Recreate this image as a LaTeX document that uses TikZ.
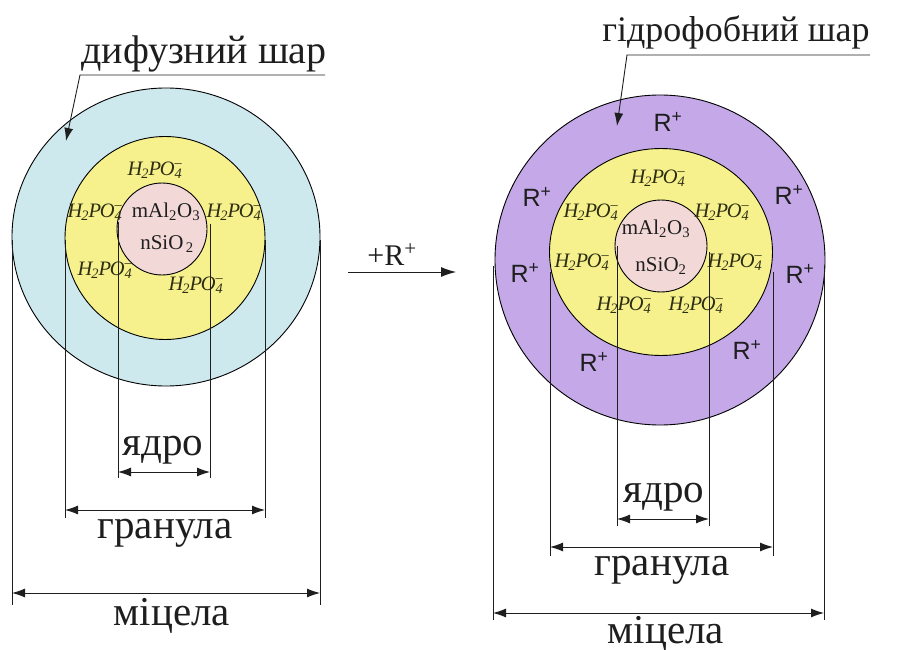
\documentclass[tikz,border=0pt]{standalone}
\usepackage{fontspec}
\setmainfont{Liberation Serif}
\newfontfamily\arialfont{Liberation Sans}
\usetikzlibrary{arrows.meta,shapes.geometric}
\definecolor{diffblue}{RGB}{206,233,238}
\definecolor{granyellow}{RGB}{246,241,140}
\definecolor{corepink}{RGB}{243,216,216}
\definecolor{hydpurple}{RGB}{196,168,232}
\definecolor{iondark}{RGB}{45,45,20}
\definecolor{inkdark}{RGB}{30,30,30}
\newcommand{\hpo}{\textit{H\kern-0.05em\textsubscript{2}\kern-0.03em P\kern-0.06em O\rlap{\textsubscript{4}}\textsuperscript{–}}}
\newcommand{\rplus}{R\textsuperscript{+}}
\tikzset{
  layer/.style={ellipse, draw=black, line width=0.9pt, inner sep=0pt},
  bigtxt/.style={font=\fontsize{41}{44}\selectfont, inner sep=0pt, anchor=base, text=inkdark},
  iontxt/.style={font=\fontsize{20.5}{22}\selectfont, inner sep=0pt, text=iondark},
  rtxt/.style={font=\arialfont\fontsize{25}{28}\selectfont, inner sep=0pt, text=inkdark},
  coretxt/.style={font=\fontsize{21}{22}\selectfont, inner sep=0pt, text=inkdark},
  dimline/.style={line width=0.8pt, draw=inkdark},
  dimarrow/.style={line width=0.9pt, draw=inkdark, {Latex[length=13pt,width=9pt]}-{Latex[length=13pt,width=9pt]}},
  leader/.style={line width=0.9pt, draw=inkdark, -{Latex[length=13pt,width=9pt]}}
}
\begin{document}
\begin{tikzpicture}[x=1pt,y=-1pt]
\useasboundingbox (0,0) rectangle (919,650);
% ---------- left micelle ----------
\node[layer, fill=diffblue, minimum width=308pt, minimum height=298pt] (Lout) at (166,237) {};
\node[layer, fill=granyellow, minimum width=200pt, minimum height=203pt] (Lgran) at (165,238) {};
\node[layer, fill=corepink, minimum width=90pt, minimum height=92pt] (Lcore) at (162,229) {};
\node[coretxt] (Lc1) at (166,212) {mAl\textsubscript{2}O\textsubscript{3}};
\node[coretxt] (Lc2) at (167,244) {nSiO\textsubscript{\,2}};
\node[iontxt] (Li1) at (155,170) {\hpo};
\node[iontxt] (Li2) at (95,212) {\hpo};
\node[iontxt] (Li3) at (234,212) {\hpo};
\node[iontxt] (Li4) at (105,270) {\hpo};
\node[iontxt] (Li5) at (196,285) {\hpo};
% dimension lines left
\coordinate (La1) at (12,240);  \coordinate (La2) at (12,605);
\coordinate (Lb1) at (320,240); \coordinate (Lb2) at (320,605);
\coordinate (Lc1a) at (65,240);  \coordinate (Lc1b) at (65,518);
\coordinate (Ld1a) at (265,240); \coordinate (Ld1b) at (265,518);
\coordinate (Le1a) at (118,222); \coordinate (Le1b) at (118,478);
\coordinate (Lf1a) at (210,224); \coordinate (Lf1b) at (210,478);
\draw[dimline] (La1) -- (La2);
\draw[dimline] (Lb1) -- (Lb2);
\draw[dimline] (Lc1a) -- (Lc1b);
\draw[dimline] (Ld1a) -- (Ld1b);
\draw[dimline] (Le1a) -- (Le1b);
\draw[dimline] (Lf1a) -- (Lf1b);
\coordinate (Lm1) at (12,593);  \coordinate (Lm2) at (320,593);
\coordinate (Lg1) at (65,510);  \coordinate (Lg2) at (265,510);
\coordinate (Ly1) at (118,472); \coordinate (Ly2) at (210,472);
\draw[dimarrow] (Lm1) -- (Lm2);
\draw[dimarrow] (Lg1) -- (Lg2);
\draw[dimarrow] (Ly1) -- (Ly2);
\node[bigtxt] (Lyad) at (163,455) {ядро};
\node[bigtxt] (Lgr) at (165,538) {гранула};
\node[bigtxt] (Lmi) at (172,625) {міцела};
% leader left
\node[bigtxt, font=\fontsize{40}{44}\selectfont] (Ldif) at (204,64) {дифузний шар};
\coordinate (Ll1) at (325,75); \coordinate (Ll2) at (80,75); \coordinate (Ll3) at (66,141);
\draw[leader] (Ll1) -- (Ll2) -- (Ll3);
% ---------- reaction arrow ----------
\node[font=\fontsize{30}{32}\selectfont, inner sep=0pt, anchor=base, text=inkdark] (rlab) at (392,265) {+\rplus};
\coordinate (ra1) at (348,272); \coordinate (ra2) at (456,272);
\draw[leader, -{Latex[length=15pt,width=10pt]}] (ra1) -- (ra2);
% ---------- right micelle ----------
\node[layer, fill=hydpurple, minimum width=330pt, minimum height=330pt] (Rout) at (660,260) {};
\node[layer, fill=granyellow, minimum width=223pt, minimum height=207pt] (Rgran) at (661,252) {};
\node[layer, fill=corepink, minimum width=92pt, minimum height=92pt] (Rcore) at (661,246) {};
\node[coretxt] (Rc1) at (656,229) {mAl\textsubscript{2}O\textsubscript{3}};
\node[coretxt] (Rc2) at (661,266) {nSiO\textsubscript{2}};
\node[iontxt] (Ri1) at (658,178) {\hpo};
\node[iontxt] (Ri2) at (591,212) {\hpo};
\node[iontxt] (Ri3) at (722,212) {\hpo};
\node[iontxt] (Ri4) at (582,262) {\hpo};
\node[iontxt] (Ri5) at (735,262) {\hpo};
\node[iontxt] (Ri6) at (624,305) {\hpo};
\node[iontxt] (Ri7) at (696,305) {\hpo};
\node[rtxt] (Rr1) at (668,122) {\rplus};
\node[rtxt] (Rr2) at (537,197) {\rplus};
\node[rtxt] (Rr3) at (789,195) {\rplus};
\node[rtxt] (Rr4) at (525,273) {\rplus};
\node[rtxt] (Rr5) at (800,274) {\rplus};
\node[rtxt] (Rr6) at (594,362) {\rplus};
\node[rtxt] (Rr7) at (747,350) {\rplus};
% dimension lines right
\coordinate (Ra1) at (493,266);  \coordinate (Ra2) at (493,620);
\coordinate (Rb1) at (824,266);  \coordinate (Rb2) at (824,620);
\coordinate (Rc1a) at (550,272); \coordinate (Rc1b) at (550,556);
\coordinate (Rd1a) at (773,272); \coordinate (Rd1b) at (773,556);
\coordinate (Re1a) at (617,246); \coordinate (Re1b) at (617,526);
\coordinate (Rf1a) at (709,252); \coordinate (Rf1b) at (709,526);
\draw[dimline] (Ra1) -- (Ra2);
\draw[dimline] (Rb1) -- (Rb2);
\draw[dimline] (Rc1a) -- (Rc1b);
\draw[dimline] (Rd1a) -- (Rd1b);
\draw[dimline] (Re1a) -- (Re1b);
\draw[dimline] (Rf1a) -- (Rf1b);
\coordinate (Rm1) at (493,613);  \coordinate (Rm2) at (824,613);
\coordinate (Rg1) at (550,547);  \coordinate (Rg2) at (773,547);
\coordinate (Ry1) at (617,519);  \coordinate (Ry2) at (709,519);
\draw[dimarrow] (Rm1) -- (Rm2);
\draw[dimarrow] (Rg1) -- (Rg2);
\draw[dimarrow] (Ry1) -- (Ry2);
\node[bigtxt] (Ryad) at (664,502) {ядро};
\node[bigtxt] (Rgr) at (662,575) {гранула};
\node[bigtxt] (Rmi) at (666,643) {міцела};
% leader right
\node[bigtxt, font=\fontsize{36}{40}\selectfont] (Rhyd) at (736,42) {гідрофобний шар};
\coordinate (Rl1) at (870,55); \coordinate (Rl2) at (627,55); \coordinate (Rl3) at (617,126);
\draw[leader] (Rl1) -- (Rl2) -- (Rl3);
\end{tikzpicture}
\end{document}
